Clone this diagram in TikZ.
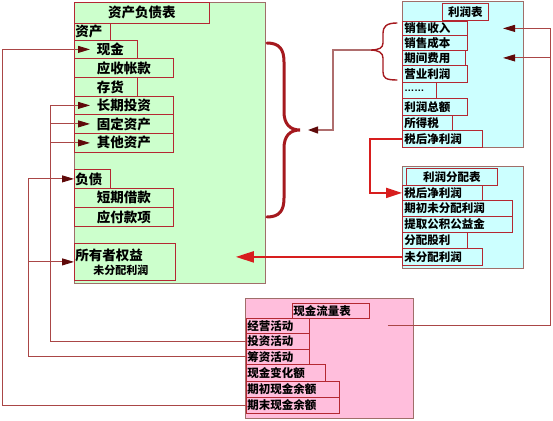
\documentclass[tikz,border=0pt]{standalone}
\usepackage{fontspec}
\newfontfamily\cjk{Noto Sans CJK SC}
\newfontfamily\latinf{Liberation Sans}
\usetikzlibrary{arrows.meta,calc}
\definecolor{gfill}{RGB}{204,255,204}
\definecolor{cfill}{RGB}{204,255,255}
\definecolor{pfill}{RGB}{255,190,220}
\definecolor{bigline}{RGB}{160,110,105}
\definecolor{cellline}{RGB}{180,40,50}
\definecolor{connline}{RGB}{170,70,70}
\definecolor{tipdark}{RGB}{95,10,10}
\definecolor{redline}{RGB}{215,30,30}
\definecolor{bracecol}{RGB}{165,25,30}
\tikzset{
  bigbox/.style={draw=bigline, line width=0.8pt, anchor=north west, inner sep=0pt},
  cell/.style={draw=cellline, line width=0.8pt, inner xsep=0pt, inner ysep=0pt, anchor=north west, align=left, font=\cjk\bfseries\fontsize{11.5}{13}\selectfont},
  gcell/.style={cell, font=\cjk\bfseries\fontsize{13.5}{15}\selectfont},
  conn/.style={draw=connline, line width=0.9pt},
  thinarrow/.style={conn, -{Triangle[length=12pt,width=7pt,fill=tipdark,color=tipdark]}},
  redarrow/.style={draw=redline, line width=2pt, -{Triangle[length=16pt,width=10pt,fill=redline,color=redline]}},
  bracestyle/.style={draw=bracecol, line width=3pt, line cap=round},
  smallbrace/.style={draw=bracecol, line width=1.4pt, line cap=round}
}
\begin{document}
\begin{tikzpicture}[x=1pt,y=-1pt]
\useasboundingbox (0,0) rectangle (553,420);
% big boxes
\node[bigbox, fill=gfill, minimum width=191pt, minimum height=281pt] (bs) at (74,2) {};
\node[bigbox, fill=cfill, minimum width=121pt, minimum height=146pt] (is) at (402,1) {};
\node[bigbox, fill=cfill, minimum width=121pt, minimum height=102pt] (pd) at (402,166) {};
\node[bigbox, fill=pfill, minimum width=168pt, minimum height=120pt] (cf) at (245,298) {};
% balance sheet cells
\node[gcell, align=center, text width=135pt, minimum height=21pt] (bst) at (74,2) {资产负债表};
\node[gcell, text width=36pt, minimum height=17pt] (assets) at (74,23) {\hspace*{1pt}资产};
\node[gcell, text width=63pt, minimum height=18pt] (cash) at (74,40) {\hspace*{22.5pt}现金};
\node[gcell, text width=99pt, minimum height=19pt] (ar) at (74,58) {\hspace*{22.5pt}应收帐款};
\node[gcell, text width=63pt, minimum height=19pt] (inv) at (74,77) {\hspace*{22.5pt}存货};
\node[gcell, text width=99pt, minimum height=18pt] (lti) at (74,96) {\hspace*{22.5pt}长期投资};
\node[gcell, text width=99pt, minimum height=19pt] (fa) at (74,114) {\hspace*{22.5pt}固定资产};
\node[gcell, text width=99pt, minimum height=19pt] (oa) at (74,133) {\hspace*{22.5pt}其他资产};
\node[gcell, text width=36pt, minimum height=19pt] (liab) at (74,169) {\hspace*{1pt}负债};
\node[gcell, text width=99pt, minimum height=19pt] (stl) at (74,188) {\hspace*{22.5pt}短期借款};
\node[gcell, text width=99pt, minimum height=19pt] (ap) at (74,207) {\hspace*{22.5pt}应付款项};
\node[gcell, text width=101pt, minimum height=37pt] (eq) at (74,243) {\hspace*{1pt}所有者权益\\[-1pt]\hspace*{19pt}{\fontsize{11}{12}\selectfont 未分配利润}};
% income statement cells
\node[cell, align=center, text width=46pt, minimum height=17pt] (ist) at (442,3) {利润表};
\node[cell, text width=65pt, minimum height=14pt] (is1) at (402,21) {\hspace*{2pt}销售收入};
\node[cell, text width=65pt, minimum height=15pt] (is2) at (402,35) {\hspace*{2pt}销售成本};
\node[cell, text width=63pt, minimum height=15pt] (is3) at (402,50) {\hspace*{2pt}期间费用};
\node[cell, text width=65pt, minimum height=17pt] (is4) at (402,65) {\hspace*{2pt}营业利润};
\node[cell, text width=34pt, minimum height=16pt] (is5) at (402,82) {\hspace*{2pt}{\latinf\bfseries\fontsize{10}{12}\selectfont ……}};
\node[cell, text width=65pt, minimum height=17pt] (is6) at (402,98) {\hspace*{2pt}利润总额};
\node[cell, text width=50pt, minimum height=15pt] (is7) at (402,115) {\hspace*{2pt}所得税};
\node[cell, text width=80pt, minimum height=17pt] (is8) at (402,130) {\hspace*{2pt}税后净利润};
% profit distribution cells
\node[cell, align=center, text width=91pt, minimum height=17pt] (pdt) at (406,168) {利润分配表};
\node[cell, text width=80pt, minimum height=15pt] (pd1) at (402,185) {\hspace*{2pt}税后净利润};
\node[cell, text width=110pt, minimum height=16pt] (pd2) at (402,200) {\hspace*{2pt}期初未分配利润};
\node[cell, text width=110pt, minimum height=16pt] (pd3) at (402,216) {\hspace*{2pt}提取公积公益金};
\node[cell, text width=65pt, minimum height=16pt] (pd4) at (402,232) {\hspace*{2pt}分配股利};
\node[cell, text width=80pt, minimum height=17pt] (pd5) at (402,248) {\hspace*{2pt}未分配利润};
% cash flow cells
\node[cell, text width=77pt, minimum height=15pt] (cft) at (292,303) {\hspace*{1pt}现金流量表};
\node[cell, text width=63pt, minimum height=15pt] (cf1) at (246,318) {\hspace*{1pt}经营活动};
\node[cell, text width=63pt, minimum height=16pt] (cf2) at (246,333) {\hspace*{1pt}投资活动};
\node[cell, text width=63pt, minimum height=15pt] (cf3) at (246,349) {\hspace*{1pt}筹资活动};
\node[cell, text width=79pt, minimum height=17pt] (cf4) at (246,364) {\hspace*{1pt}现金变化额};
\node[cell, text width=93pt, minimum height=16pt] (cf5) at (246,381) {\hspace*{1pt}期初现金余额};
\node[cell, text width=93pt, minimum height=16pt] (cf6) at (246,397) {\hspace*{1pt}期末现金余额};
% braces
\draw[bracestyle] (267,43) .. controls (280,43) and (284,50) .. (284,62) -- (284,112) .. controls (284,124) and (290,130) .. (300,130) .. controls (290,130) and (284,136) .. (284,148) -- (284,198) .. controls (284,210) and (280,217) .. (267,217);
\draw[smallbrace] (397,23) .. controls (386,23) and (383,27) .. (383,33) -- (383,43) .. controls (383,48) and (379,50) .. (370,50) .. controls (379,50) and (383,53) .. (383,58) -- (383,72) .. controls (383,78) and (386,80) .. (397,80);
% named helper coordinates
\coordinate (sbt) at (370,50);
\coordinate (bbt) at (300,130);
\coordinate (xm) at (333,0);
\coordinate (xr) at (370,0);
\coordinate (xa) at (50,0);
\coordinate (xb) at (28,0);
\coordinate (xc) at (2,0);
\coordinate (xe) at (550,0);
\coordinate (xt) at (503,0);
\coordinate (cfo) at ([xshift=-26pt]cf.east |- cf1.east);
\coordinate (bsin) at ([xshift=-30pt]bs.east |- pd5.west);
% connectors
\draw[conn, line width=1.2pt, draw={rgb,255:red,175;green,110;blue,110}, -{Triangle[length=10pt,width=7pt,fill=tipdark,color=tipdark]}] (sbt) -| (xm |- bbt) -- ([xshift=8pt]bbt);
\draw[redarrow] (is8.west) -| (xr |- pd1.west) -- (pd1.west);
\draw[redarrow, -{Triangle[length=18pt,width=11pt,fill=redline,color=redline]}] (pd5.west) -- (bsin);
% left side
\draw[thinarrow] (cf2.west) -| (xa |- lti.west) -- ([xshift=16pt]lti.west);
\draw[thinarrow] (xa |- fa.west) -- ([xshift=16pt]fa.west);
\draw[thinarrow] (xa |- oa.west) -- ([xshift=16pt]oa.west);
\draw[thinarrow] (cf3.west) -| (xb |- liab.west) -- (liab.west);
\draw[thinarrow] (xb |- eq.west) -- (eq.west);
\draw[thinarrow] (cf6.west) -| (xc |- cash.west) -- ([xshift=16pt]cash.west);
% right side
\draw[thinarrow] (cfo) -| (xe |- is1.east) -- (xt |- is1.east);
\draw[thinarrow] (xe |- is3.east) -- (xt |- is3.east);
\end{tikzpicture}
\end{document}
